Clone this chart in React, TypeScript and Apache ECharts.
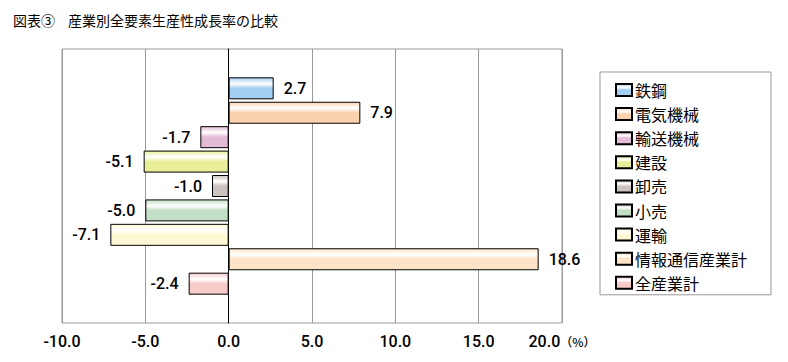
import React, { useEffect, useRef } from "react";
import * as echarts from "echarts";

const titleLabel = "図表③";
const titleText = "産業別全要素生産性成長率の比較";
const industries = ["鉄鋼", "電気機械", "輸送機械", "建設", "卸売", "小売", "運輸", "情報通信産業計", "全産業計"];
const growthRates = [2.7, 7.9, -1.7, -5.1, -1.0, -5.0, -7.1, 18.6, -2.4];
const barColors = ["#a3d0f2", "#fbd2ae", "#e5bad6", "#e9ef98", "#ccc2bf", "#c2e0c6", "#fdf8d2", "#fde4c6", "#f8caca"];
const xTicks = { min: -10, max: 20, interval: 5 };
const unitLabel = "（%）";

function gloss(c: string) {
  return new echarts.graphic.LinearGradient(0, 0, 0, 1, [
    { offset: 0, color: c },
    { offset: 0.28, color: "#ffffff" },
    { offset: 0.5, color: c },
    { offset: 1, color: c },
  ]);
}

export default function App() {
  const ref = useRef<HTMLDivElement>(null);
  useEffect(() => {
    document.body.style.margin = "0";
    const chart = echarts.init(ref.current!, undefined, { renderer: "svg" });
    const numFont = "Roboto, 'Liberation Sans', Arial, sans-serif";
    const numWeight = 500;
    const cjkFont = "'Noto Sans CJK JP', sans-serif";
    chart.setOption({
      animation: false,
      backgroundColor: "#ffffff",
      graphic: [
        { type: "text", left: 13, top: 13, style: { text: titleLabel, font: `14px ${cjkFont}`, fill: "#000" } },
        { type: "text", left: 68, top: 13, style: { text: titleText, font: `14px ${cjkFont}`, fill: "#000" } },
      ],
      grid: { left: 62, right: 226, top: 49, bottom: 39, show: true, borderColor: "#999", borderWidth: 1 },
      legend: {
        orient: "vertical",
        left: 600,
        top: 72,
        width: 176,
        padding: [9, 24, 3, 15],
        borderColor: "#999",
        borderWidth: 1,
        itemWidth: 16,
        itemHeight: 12,
        itemGap: 6.1,
        icon: "rect",
        textStyle: { fontFamily: cjkFont, fontSize: 16, lineHeight: 18, color: "#000", padding: [0, 0, 0, -2] },
        data: industries,
      },
      xAxis: {
        type: "value",
        min: xTicks.min,
        max: xTicks.max,
        interval: xTicks.interval,
        axisLine: { show: false },
        axisTick: { show: false },
        splitLine: { show: true, lineStyle: { color: "#999", width: 1 } },
        axisLabel: {
          margin: 10,
          color: "#000",
          fontFamily: numFont,
          fontWeight: numWeight,
          fontSize: 16,
          formatter: (v: number) => (v === xTicks.max ? `${v.toFixed(1)}{u|${unitLabel}}` : v.toFixed(1)),
          rich: { u: { fontFamily: cjkFont, fontSize: 12, color: "#000", padding: [0, 0, 0, 0] } },
        },
      },
      yAxis: {
        type: "category",
        data: [""],
        axisLine: { show: true, onZero: true, lineStyle: { color: "#000", width: 1 } },
        axisTick: { show: false },
        axisLabel: { show: false },
        splitLine: { show: false },
      },
      series: industries.map((name, i) => ({
        name,
        type: "bar",
        barWidth: 22,
        barGap: "11%",
        itemStyle: { color: gloss(barColors[i]), borderColor: "#000", borderWidth: 1 },
        label: {
          show: true,
          distance: 10,
          color: "#000",
          fontFamily: numFont,
          fontWeight: numWeight,
          fontSize: 16,
          formatter: (p: any) => Number(p.value).toFixed(1),
        },
        data: [
          {
            value: growthRates[i],
            label: { position: growthRates[i] < 0 ? "left" : "right" },
          },
        ],
      })),
    });
    return () => chart.dispose();
  }, []);
  return <div ref={ref} style={{ width: 788, height: 362 }} />;
}
